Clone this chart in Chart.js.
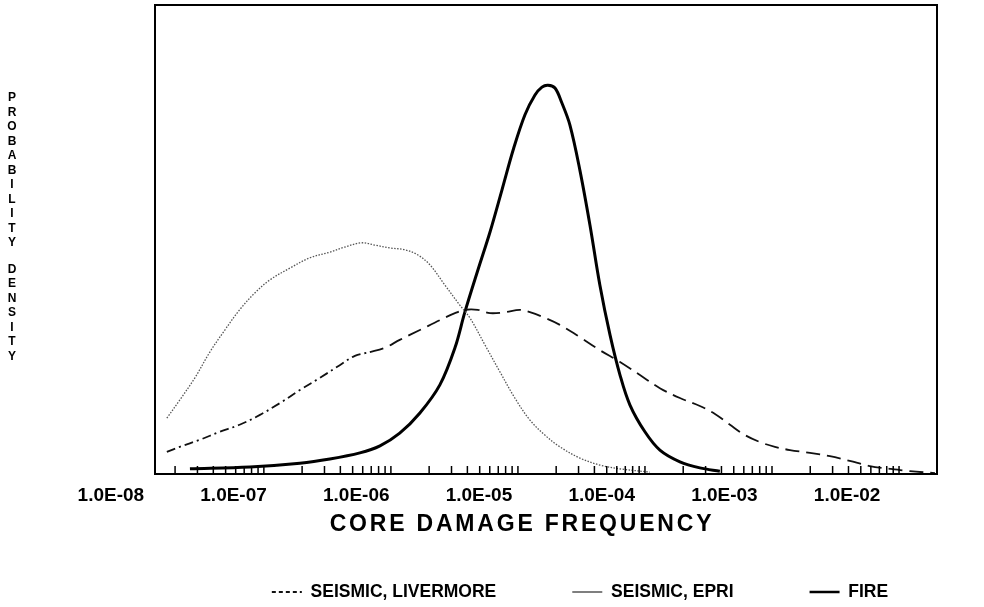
<!DOCTYPE html>
<html>
<head>
<meta charset="utf-8">
<script src="https://cdn.jsdelivr.net/npm/chart.js@4/dist/chart.umd.min.js"></script>
<style>
  html, body { margin: 0; padding: 0; background: #fff; }
</style>
</head>
<body>
<canvas id="cdfChart" width="984" height="607"></canvas>
<script>
// x axis: core damage frequency (log)
const xMin = 2.29e-8, xMax = 5.4e-2;           // range covered by the frame
const tickAxisMin = 1.39e-8, tickAxisMax = 1.99e-2; // range of the tick-mark ruler
const decades = [1e-8, 1e-7, 1e-6, 1e-5, 1e-4, 1e-3, 1e-2];
const decadeLabels = ['1.0E-08', '1.0E-07', '1.0E-06', '1.0E-05', '1.0E-04', '1.0E-03', '1.0E-02'];
const minorSteps = [1, 2, 3, 4, 5, 6, 7, 8, 9];
const xTitle = 'CORE DAMAGE FREQUENCY';
const yTitleWords = ['PROBABILITY', 'DENSITY'];

// SEISMIC, LIVERMORE
const livFreq = [2.86e-8, 3.65e-8, 5.31e-8, 7.72e-8, 1.12e-7, 1.64e-7, 2.38e-7, 3.47e-7, 5.05e-7, 7.34e-7,
  9.75e-7, 1.29e-6, 1.71e-6, 2.26e-6, 3.30e-6, 4.80e-6, 6.37e-6, 7.67e-6, 9.80e-6, 1.23e-5,
  1.63e-5, 2.15e-5, 2.60e-5, 3.44e-5, 4.56e-5, 6.64e-5, 9.66e-5, 1.41e-4, 2.05e-4, 2.98e-4,
  4.34e-4, 6.31e-4, 8.38e-4, 1.11e-3, 1.47e-3, 1.95e-3, 2.58e-3, 3.42e-3, 4.98e-3, 7.24e-3,
  1.05e-2, 1.53e-2, 2.23e-2, 3.25e-2, 5.20e-2];
const livDensity = [4.7, 5.8, 7.3, 9.0, 10.5, 12.6, 15.1, 17.9, 20.5, 23.2,
  25.2, 26.0, 26.9, 28.6, 30.7, 32.8, 34.3, 35.0, 35.0, 34.3,
  34.5, 35.0, 34.5, 33.3, 31.8, 29.2, 26.4, 23.9, 21.1, 18.3,
  16.2, 14.5, 12.8, 10.5, 8.3, 6.8, 5.8, 5.1, 4.5, 3.8,
  2.8, 1.7, 1.1, 0.6, 0.2];

// SEISMIC, EPRI
const epriFreq = [2.86e-8, 3.65e-8, 4.84e-8, 6.41e-8, 8.49e-8, 1.12e-7, 1.49e-7, 1.98e-7, 2.88e-7, 4.19e-7,
  6.09e-7, 8.07e-7, 1.11e-6, 1.42e-6, 1.88e-6, 2.49e-6, 3.18e-6, 3.98e-6, 5.27e-6, 6.98e-6,
  8.43e-6, 1.12e-5, 1.48e-5, 1.96e-5, 2.60e-5, 3.44e-5, 4.56e-5, 6.64e-5, 9.66e-5, 1.41e-4,
  2.47e-4];
const epriDensity = [11.9, 15.8, 20.5, 26.0, 30.7, 35.0, 38.6, 41.4, 43.9, 46.1,
  47.3, 48.4, 49.3, 48.8, 48.2, 47.8, 46.7, 44.6, 40.3, 36.0,
  33.3, 27.5, 21.8, 16.2, 11.5, 8.3, 5.8, 3.4, 1.9, 1.1,
  0.4];

// FIRE
const fireFreq = [4.41e-8, 1.36e-7, 3.47e-7, 6.09e-7, 1.07e-6, 1.56e-6, 2.26e-6, 3.30e-6, 4.80e-6, 6.37e-6,
  7.67e-6, 9.80e-6, 1.23e-5, 1.54e-5, 1.92e-5, 2.37e-5, 2.86e-5, 3.26e-5, 3.65e-5, 4.16e-5,
  4.74e-5, 5.51e-5, 6.64e-5, 8.02e-5, 9.66e-5, 1.17e-4, 1.41e-4, 1.70e-4, 2.25e-4, 2.98e-4,
  4.34e-4, 6.31e-4, 9.18e-4];
const fireDensity = [1.1, 1.5, 2.3, 3.2, 4.5, 6.0, 8.7, 13.0, 19.0, 26.9,
  34.5, 43.5, 51.6, 60.6, 69.5, 76.6, 80.8, 82.5, 82.9, 82.3,
  79.1, 74.4, 64.8, 53.1, 40.3, 29.6, 21.1, 14.7, 9.0, 5.1,
  2.6, 1.3, 0.6];

const FONT = "'Liberation Sans', Arial, Helvetica, sans-serif";
const legendShift = 34;

function pts(xs, ys) {
  return xs.map((x, i) => ({ x: x, y: ys[i] }));
}

const tickValues = [];
decades.forEach(d => minorSteps.forEach(m => {
  const v = d * m;
  if (v >= tickAxisMin && v <= tickAxisMax) tickValues.push(v);
}));

const framePlugin = {
  id: 'frame',
  afterLayout(chart) {
    chart.legend.left += legendShift;
    chart.legend.right += legendShift;
  },
  afterDatasetsDraw(chart) {
    const { ctx, chartArea: a, scales: { x, xt } } = chart;
    ctx.save();
    ctx.strokeStyle = '#000';
    ctx.lineWidth = 1.5;
    tickValues.forEach(v => {
      const px = xt.getPixelForValue(v);
      ctx.beginPath();
      ctx.moveTo(px, a.bottom);
      ctx.lineTo(px, a.bottom - 8);
      ctx.stroke();
    });
    ctx.lineWidth = 2;
    ctx.strokeRect(a.left, a.top, a.right - a.left, a.bottom - a.top);

    ctx.fillStyle = '#000';
    ctx.textAlign = 'center';
    ctx.textBaseline = 'middle';
    ctx.font = 'bold 19px ' + FONT;
    decades.forEach((d, i) => ctx.fillText(decadeLabels[i], x.getPixelForValue(d), 496));

    ctx.font = 'bold 23px ' + FONT;
    ctx.letterSpacing = '2.8px';
    ctx.fillText(xTitle, 522, 525);
    ctx.letterSpacing = '0px';

    ctx.font = 'bold 12px ' + FONT;
    let y = 98;
    yTitleWords.forEach((w, wi) => {
      if (wi > 0) y += 12;
      for (const ch of w) {
        ctx.fillText(ch, 12, y);
        y += 14.5;
      }
    });
    ctx.restore();
  }
};

new Chart(document.getElementById('cdfChart'), {
  type: 'line',
  data: {
    datasets: [
      {
        label: 'SEISMIC, LIVERMORE',
        data: pts(livFreq, livDensity),
        borderColor: '#111',
        borderWidth: 1.8,
        borderDash: [14, 7],
        segment: {
          borderDash: c => c.p1.parsed.x <= 1.3e-6 ? [9, 4, 2, 4] : undefined
        }
      },
      {
        label: 'SEISMIC, EPRI',
        data: pts(epriFreq, epriDensity),
        borderColor: '#555',
        borderWidth: 1.3,
        borderDash: [1.5, 1.5]
      },
      {
        label: 'FIRE',
        data: pts(fireFreq, fireDensity),
        borderColor: '#000',
        borderWidth: 3
      }
    ]
  },
  options: {
    responsive: false,
    animation: false,
    devicePixelRatio: 1,
    layout: { padding: { left: 155, right: 47, top: 5, bottom: -3.75 } },
    elements: {
      point: { radius: 0 },
      line: { tension: 0.35, fill: false }
    },
    scales: {
      x: {
        type: 'logarithmic',
        min: xMin,
        max: xMax,
        afterFit: scale => { scale.height = 33.25; },
        grid: { display: false, drawTicks: false },
        border: { display: false },
        ticks: { display: false }
      },
      xt: {
        type: 'logarithmic',
        position: 'bottom',
        display: false,
        min: tickAxisMin,
        max: tickAxisMax
      },
      y: {
        display: false,
        min: 0,
        max: 100
      }
    },
    plugins: {
      tooltip: { enabled: false },
      legend: {
        position: 'bottom',
        fullSize: false,
        labels: {
          color: '#000',
          font: { family: FONT, size: 17.5, weight: 'bold' },
          usePointStyle: true,
          pointStyle: 'line',
          pointStyleWidth: 30,
          padding: 76,
          generateLabels: chart => {
            const items = Chart.defaults.plugins.legend.labels.generateLabels(chart);
            items.forEach(it => {
              it.pointStyle = 'line';
              if (it.datasetIndex === 0) it.lineDash = [4, 3];
              if (it.datasetIndex === 2) it.lineWidth = 2.5;
            });
            return items;
          }
        }
      }
    }
  },
  plugins: [framePlugin]
});
</script>
</body>
</html>
